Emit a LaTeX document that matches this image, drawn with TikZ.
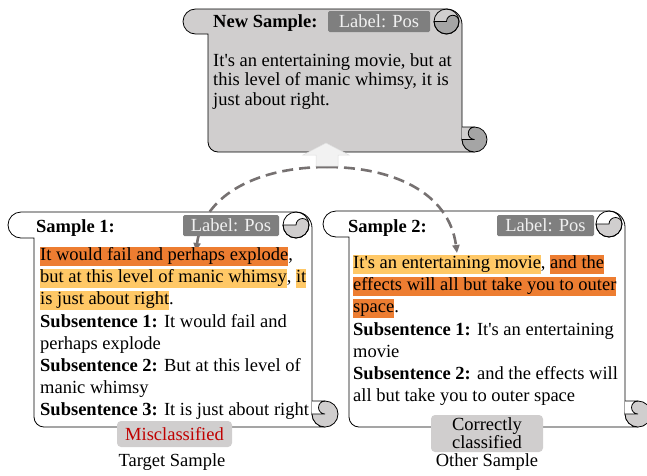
\documentclass[tikz,border=0pt]{standalone}
\usepackage{fontspec}
\setmainfont{Liberation Serif}[Ligatures=TeXOff]
\usetikzlibrary{arrows.meta}
\definecolor{bodygrey}{HTML}{D0CECE}
\definecolor{darkcurl}{HTML}{A5A5A5}
\definecolor{labelgrey}{HTML}{7F7F7F}
\definecolor{dorange}{HTML}{ED7D31}
\definecolor{lorange}{HTML}{FFC866}
\definecolor{redtxt}{HTML}{C00000}
\definecolor{arrowfill}{HTML}{F2F2F2}
\definecolor{dashgrey}{HTML}{767171}
\newcommand\hlD[1]{{\setlength\fboxsep{0pt}\colorbox{dorange}{\vrule height 13.5pt depth 5pt width 0pt #1}}}
\newcommand\hlL[1]{{\setlength\fboxsep{0pt}\colorbox{lorange}{\vrule height 13.5pt depth 5pt width 0pt #1}}}
% #1 xL, #2 xR, #3 T, #4 B, #5 r, #6 body colour, #7 curl colour
\newcommand\drawscroll[7]{%
 \filldraw[fill=#6, draw=black, line width=0.8pt]
  ({#1},{#3+2*#5}) -- ({#1-#5},{#3+2*#5}) arc[start angle=90,end angle=270,radius=#5]
  -- ({#2-#5-3},{#3}) arc[start angle=270,end angle=360,radius=#5+3]
  -- ({#2},{#4-#5}) arc[start angle=180,end angle=90,radius=#5]
  -- ({#1+10},{#4}) arc[start angle=90,end angle=180,radius=10] -- cycle;
 \draw[line width=0.8pt, fill=#7] ({#2-2*#5-3},{#3+#5}) arc[start angle=180,end angle=0,radius=#5]
  arc[start angle=0,end angle=-180,radius=#5/2] -- cycle;
 \draw[line width=0.8pt] ({#2-#5-3},{#3+#5}) circle[radius=#5];
 \draw[line width=0.8pt, fill=#7] ({#2+#5},{#4-#5}) circle[radius=#5];
 \draw[line width=0.8pt, fill=#6] ({#2},{#4-2*#5}) -- ({#2+#5},{#4-2*#5})
  arc[start angle=-90,end angle=-270,radius=#5/2] -- ({#2},{#4-#5});
}
\tikzset{
 txt/.style={font=\fontsize{18.5}{22}\selectfont, inner sep=0pt, anchor=base west},
 lab/.style={fill=labelgrey, rounded corners=1.5pt, text=white!94!black,
   font=\fontsize{18.5}{22}\selectfont, inner sep=0pt, minimum height=21pt},
 pill/.style={fill=bodygrey, rounded corners=4pt, inner sep=0pt,
   font=\fontsize{18.5}{22}\selectfont},
 capt/.style={font=\fontsize{18.5}{22}\selectfont, inner sep=0pt},
 dashline/.style={draw=dashgrey, line width=2.6pt, dash pattern=on 11pt off 6pt},
 tipst/.style={-{Triangle[length=8pt,width=7pt]}},
}
\begin{document}
\begin{tikzpicture}[x=1pt,y=-1pt]
\useasboundingbox (0,0) rectangle (647,475);
% scrolls
\drawscroll{208}{462}{9}{152}{12.5}{bodygrey}{darkcurl}
\drawscroll{34}{312}{212}{427}{13}{white}{bodygrey}
\drawscroll{349}{625}{211}{427}{13}{white}{bodygrey}
% dashed connectors
\coordinate (peak) at (327,167);
\coordinate (tip1) at (196,251);
\coordinate (tip2) at (457,253);
\draw[dashline, tipst] (peak) .. controls (262,167) and (204,192) .. (tip1);
\draw[dashline, tipst] (peak) .. controls (392,167) and (449,192) .. (tip2);
% up arrow
\filldraw[fill=arrowfill, draw=gray!25, line width=0.5pt] (326,143) -- (349,155) -- (338,155)
  -- (338,166) -- (316,166) -- (316,155) -- (303,155) -- cycle;
% headers
\node[txt] (h0) at (213,27) {\textbf{New Sample:}};
\node[lab, minimum width=102pt] (lab0) at (379,21.5) {Label: Pos};
\node[txt] (h1) at (36,232) {\textbf{Sample 1:}};
\node[lab, minimum width=96pt] (lab1) at (231,225.5) {Label: Pos};
\node[txt] (h2) at (348,232) {\textbf{Sample 2:}};
\node[lab, minimum width=97pt] (lab2) at (545.5,225.5) {Label: Pos};
% new sample text
\node[txt] (n1) at (213,66) {It's an entertaining movie, but at};
\node[txt] (n2) at (213,85.5) {this level of manic whimsy, it is};
\node[txt] (n3) at (213,105) {just about right.};
% sample 1 text
\node[txt] (a1) at (40,260.5) {\hlD{It would fail and perhaps explode},};
\node[txt] (a2) at (40,282.7) {\hlL{but at this level of manic whimsy}, \hlL{it}};
\node[txt] (a3) at (40,304.9) {\hlL{is just about right}.};
\node[txt] (a4) at (40,327.1) {\textbf{Subsentence 1:} It would fail and};
\node[txt] (a5) at (40,349.3) {perhaps explode};
\node[txt] (a6) at (40,371.5) {\textbf{Subsentence 2:} But at this level of};
\node[txt] (a7) at (40,393.7) {manic whimsy};
\node[txt] (a8) at (40,415.9) {\textbf{Subsentence 3:} It is just about right};
% sample 2 text
\node[txt] (b1) at (353,268.5) {\hlL{It's an entertaining movie}, \hlD{and the}};
\node[txt] (b2) at (353,290.7) {\hlD{effects will all but take you to outer}};
\node[txt] (b3) at (353,312.9) {\hlD{space}.};
\node[txt] (b4) at (353,335.1) {\textbf{Subsentence 1:} It's an entertaining};
\node[txt] (b5) at (353,357.3) {movie};
\node[txt] (b6) at (353,379.5) {\textbf{Subsentence 2:} and the effects will};
\node[txt] (b7) at (353,401.7) {all but take you to outer space};
% status boxes
\node[pill, minimum width=115pt, minimum height=26pt, text=redtxt] (mis) at (174.5,434) {Misclassified};
\node[capt] (tgt) at (172,462) {Target Sample};
\node[pill, minimum width=112pt, minimum height=37pt, align=center,
  font=\fontsize{18.5}{13.5}\selectfont] (cor) at (487,433.5) {Correctly\\classified};
\node[capt] (oth) at (487,462) {Other Sample};
\end{tikzpicture}
\end{document}
